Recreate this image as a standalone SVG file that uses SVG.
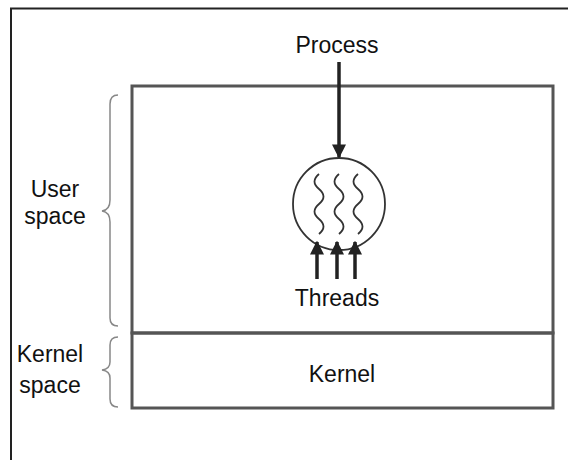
<svg xmlns="http://www.w3.org/2000/svg" width="568" height="460" viewBox="0 0 568 460">
<style>
text{font-family:"Liberation Sans",Arial,sans-serif;font-size:23px;fill:#111;text-anchor:middle}
.box{fill:none;stroke:#555;stroke-width:3}
.brace{fill:none;stroke:#888;stroke-width:1.5}
.wave{fill:none;stroke:#333;stroke-width:1.8}
.arr{stroke:#222;stroke-width:3.5;fill:none}
</style>
<defs>
<marker id="ah" viewBox="0 0 10 10" refX="9" refY="5" markerWidth="4" markerHeight="4" orient="auto" markerUnits="strokeWidth">
<path d="M0,0 L10,5 L0,10 z" fill="#222"/>
</marker>
</defs>
<rect width="568" height="460" fill="#fff"/>
<g id="frame">
<path d="M11,460 V8.5 H568" fill="none" stroke="#222" stroke-width="2"/>
</g>
<g id="userspace">
<rect class="box" x="132" y="86" width="421" height="247"/>
</g>
<g id="kernel">
<rect class="box" x="132" y="333" width="421" height="75"/>
<text x="342" y="382">Kernel</text>
</g>
<g id="process">
<text x="337" y="53">Process</text>
<circle cx="339" cy="204" r="46" fill="none" stroke="#333" stroke-width="1.8"/>
<path class="wave" d="M319,174 c-6,5 -6,10 0,15 c6,5 6,10 0,15 c-6,5 -6,10 0,15 c6,5 6,10 0,15"/>
<path class="wave" d="M339,174 c-6,5 -6,10 0,15 c6,5 6,10 0,15 c-6,5 -6,10 0,15 c6,5 6,10 0,15"/>
<path class="wave" d="M358,174 c-6,5 -6,10 0,15 c6,5 6,10 0,15 c-6,5 -6,10 0,15 c6,5 6,10 0,15"/>
</g>
<g id="threads">
<text x="337" y="306">Threads</text>
</g>
<g id="labels">
<text x="55" y="197">User</text>
<text x="55" y="224">space</text>
<text x="50" y="362">Kernel</text>
<text x="50" y="393">space</text>
<path class="brace" d="M118,95 Q110,95 110,104 V200 Q110,210 102,211 Q110,212 110,222 V318 Q110,326 118,326"/>
<path class="brace" d="M118,337 Q110,337 110,345 V362 Q110,369 102,370 Q110,371 110,378 V399 Q110,407 118,407"/>
</g>
<g id="connectors">
<line class="arr" x1="339" y1="62" x2="339" y2="157" marker-end="url(#ah)"/>
<line class="arr" x1="317" y1="279" x2="317" y2="242" marker-end="url(#ah)"/>
<line class="arr" x1="337" y1="279" x2="337" y2="242" marker-end="url(#ah)"/>
<line class="arr" x1="355" y1="279" x2="355" y2="242" marker-end="url(#ah)"/>
</g>
</svg>
